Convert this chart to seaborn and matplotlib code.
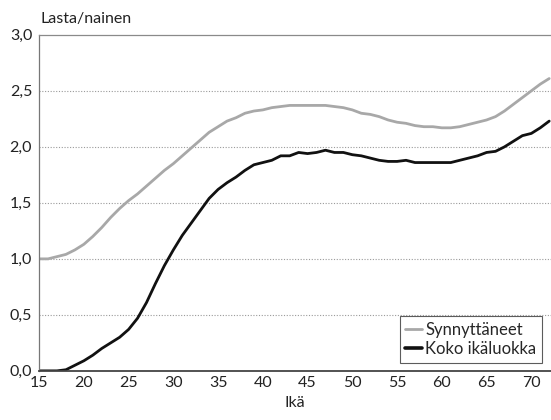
import pandas as pd
import matplotlib
matplotlib.use("Agg")
import matplotlib.pyplot as plt
import seaborn as sns

# Ikä (age) and lasta/nainen (children per woman)
ages = list(range(15, 73))
synnyttaneet = [1.00, 1.00, 1.02, 1.04, 1.08, 1.13, 1.20, 1.28, 1.37, 1.45,
                1.52, 1.58, 1.65, 1.72, 1.79, 1.85, 1.92, 1.99, 2.06, 2.13,
                2.18, 2.23, 2.26, 2.30, 2.32, 2.33, 2.35, 2.36, 2.37, 2.37,
                2.37, 2.37, 2.37, 2.36, 2.35, 2.33, 2.30, 2.29, 2.27, 2.24,
                2.22, 2.21, 2.19, 2.18, 2.18, 2.17, 2.17, 2.18, 2.20, 2.22,
                2.24, 2.27, 2.32, 2.38, 2.44, 2.50, 2.56, 2.61]
koko_ikaluokka = [0.00, 0.00, 0.00, 0.01, 0.05, 0.09, 0.14, 0.20, 0.25, 0.30,
                  0.37, 0.47, 0.61, 0.78, 0.94, 1.08, 1.21, 1.32, 1.43, 1.54,
                  1.62, 1.68, 1.73, 1.79, 1.84, 1.86, 1.88, 1.92, 1.92, 1.95,
                  1.94, 1.95, 1.97, 1.95, 1.95, 1.93, 1.92, 1.90, 1.88, 1.87,
                  1.87, 1.88, 1.86, 1.86, 1.86, 1.86, 1.86, 1.88, 1.90, 1.92,
                  1.95, 1.96, 2.00, 2.05, 2.10, 2.12, 2.17, 2.23]

x_ticks = [15, 20, 25, 30, 35, 40, 45, 50, 55, 60, 65, 70]
y_ticks = [0.0, 0.5, 1.0, 1.5, 2.0, 2.5, 3.0]
y_tick_labels = ["0,0", "0,5", "1,0", "1,5", "2,0", "2,5", "3,0"]

df = pd.DataFrame({
    "age": ages * 2,
    "value": synnyttaneet + koko_ikaluokka,
    "group": ["Synnyttäneet"] * len(ages) + ["Koko ikäluokka"] * len(ages),
})

sns.set_style("white")
plt.rcParams['font.family'] = ['Lato', 'DejaVu Sans']

fig = plt.figure(figsize=(5.51, 4.2), dpi=100)
ax = fig.add_axes([0.071, 0.117, 0.929, 0.8])

sns.lineplot(data=df, x="age", y="value", hue="group",
             palette={"Synnyttäneet": "#a8a8a8", "Koko ikäluokka": "#111111"},
             linewidth=2.0, ax=ax, legend=False)

ax.set_xlim(15, 72.2)
ax.set_ylim(0, 3.0)
ax.set_xticks(x_ticks)
ax.set_yticks(y_ticks)
ax.set_yticklabels(y_tick_labels)
ax.tick_params(axis="both", length=0, labelsize=11.5, colors="#222222")
ax.tick_params(axis="x", pad=4)
ax.tick_params(axis="y", pad=5)

for y in y_ticks[1:-1]:
    ax.axhline(y, color="#9a9a9a", linestyle=(0, (1, 1.5)), linewidth=0.8, zorder=0)

ax.spines["right"].set_visible(False)
ax.spines["top"].set_color("#8a8a8a")
ax.spines["top"].set_linewidth(0.9)
ax.spines["left"].set_color("#777777")
ax.spines["left"].set_linewidth(0.9)
ax.spines["bottom"].set_color("#444444")
ax.spines["bottom"].set_linewidth(1.3)

ax.set_xlabel("Ikä", fontsize=11.5, color="#222222", labelpad=4)
ax.set_ylabel("")
fig.text(0.073, 0.938, "Lasta/nainen", fontsize=11.5, color="#222222", ha="left", va="bottom")

handles = [plt.Line2D([], [], color="#a8a8a8", linewidth=2.0),
           plt.Line2D([], [], color="#111111", linewidth=2.6)]
leg = ax.legend(handles, ["Synnyttäneet", "Koko ikäluokka"], loc="lower right",
                bbox_to_anchor=(0.983, 0.024), fontsize=12, frameon=True,
                fancybox=False, handlelength=1.0, handletextpad=0.2,
                borderpad=0.35, labelspacing=0.2, borderaxespad=0)
leg.get_frame().set_edgecolor("#333333")
leg.get_frame().set_linewidth(0.8)

fig.savefig("out.png", dpi=100)
